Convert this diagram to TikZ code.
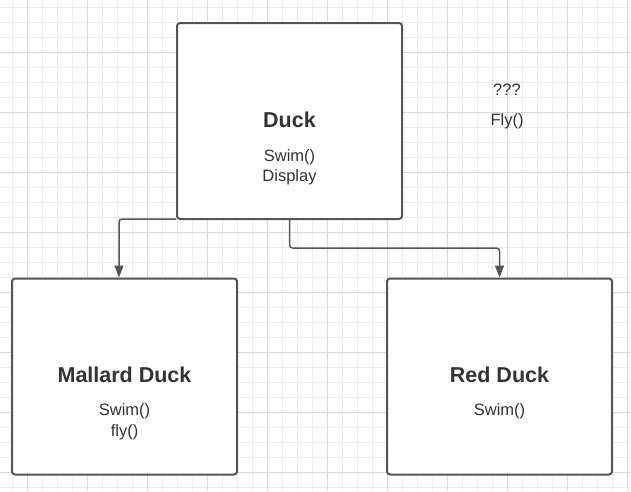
\documentclass[tikz,border=0pt]{standalone}
\usepackage{fontspec}
\setmainfont{Liberation Sans}
\usepackage{tikz}
\usetikzlibrary{arrows.meta,positioning}
\definecolor{gridminor}{RGB}{236,236,236}
\definecolor{gridmajor}{RGB}{216,216,216}
\definecolor{umlline}{RGB}{85,85,85}
\definecolor{umltext}{RGB}{51,51,51}
\tikzstyle{classbox} = [rectangle, rounded corners=3pt, minimum width=225pt, minimum height=196pt, draw=umlline, fill=white, line width=2pt]
\tikzstyle{classname} = [font=\bfseries\fontsize{21.5}{25}\selectfont, text=umltext]
\tikzstyle{methods} = [font=\fontsize{16.5}{20.5}\selectfont, text=umltext, align=center]
\tikzstyle{arrow} = [line width=1.5pt, color=umlline, rounded corners=3pt, -{Triangle[width=9pt,length=12pt]}]

\begin{document}
\begin{tikzpicture}[x=1pt, y=-1pt]
    \useasboundingbox (0,0) rectangle (631,491);

    % Grid paper
    \foreach \x in {12,27,...,627} \draw[gridminor, line width=1pt] (\x,0) -- (\x,491);
    \foreach \y in {7,22,...,487} \draw[gridminor, line width=1pt] (0,\y) -- (631,\y);
    \foreach \x in {27,87,...,627} \draw[gridmajor, line width=1pt] (\x,0) -- (\x,491);
    \foreach \y in {52,112,...,487} \draw[gridmajor, line width=1pt] (0,\y) -- (631,\y);

    % Classes
    \node[classbox] (duck) at (289.5, 121) {};
    \node[classbox] (mallard) at (124.5, 376.5) {};
    \node[classbox] (red) at (499.5, 376.5) {};

    % Class texts
    \node[classname] (ducktitle) at (289.5, 120) {Duck};
    \node[methods] (duckops) at (289.5, 167) {Swim()\\Display};
    \node[classname] (mallardtitle) at (124.5, 375) {Mallard Duck};
    \node[methods] (mallardops) at (124.5, 421.5) {Swim()\\fly()};
    \node[classname] (redtitle) at (499.5, 375) {Red Duck};
    \node[methods] (redops) at (499.5, 411) {Swim()};

    % Open question
    \node[methods] (question) at (507, 90) {???};
    \node[methods] (fly) at (507, 121) {Fly()};

    % Inheritance
    \draw[arrow] ([yshift=1pt]duck.south west) -| ([xshift=-5.5pt]mallard.north);
    \draw[arrow] (duck.south) -- ++(0,28) -| (red.north);
\end{tikzpicture}
\end{document}
